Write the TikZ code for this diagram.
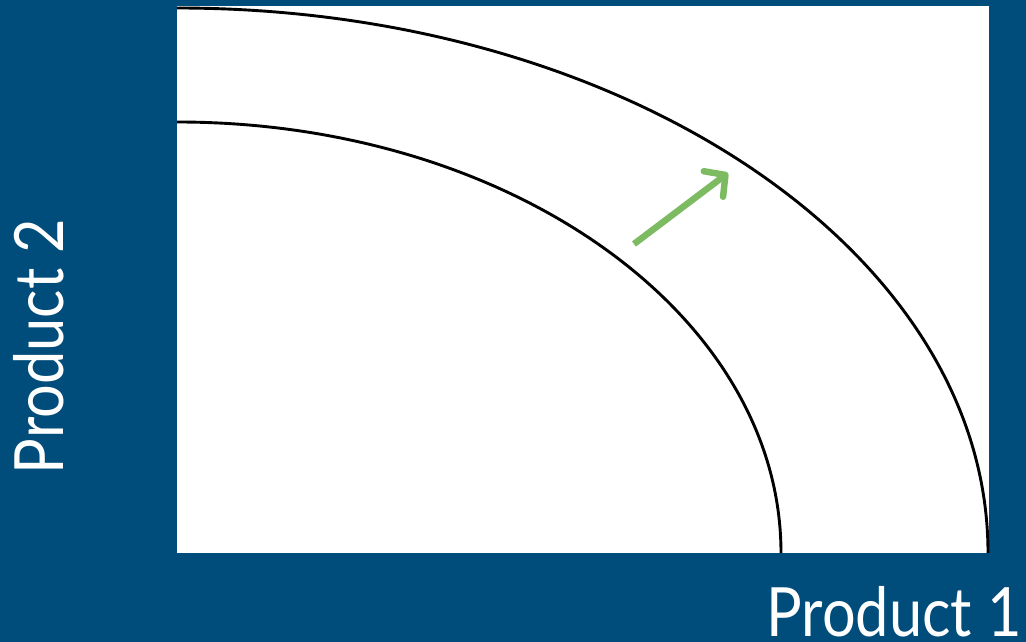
\documentclass[tikz,border=0pt]{standalone}
\usepackage{fontspec}
\setmainfont{Lato}
\usetikzlibrary{arrows.meta}
\definecolor{bgblue}{RGB}{0,76,122}
\definecolor{arrowgreen}{RGB}{125,187,99}
\newcommand{\condensed}[1]{\scalebox{0.875}[1]{#1}}
\tikzset{
  curve/.style={draw=black,line width=2.9pt},
  axislabel/.style={text=white,inner sep=0pt,font=\fontsize{68}{70}\selectfont},
  shiftarrow/.style={draw=arrowgreen,line width=6.5pt,-{Straight Barb[length=15pt,width=32pt,line width=6.5pt,round]}}
}
\begin{document}
\begin{tikzpicture}[x=1pt,y=1pt]
\fill[bgblue] (0,0) rectangle (1026,642);
\useasboundingbox (0,0) rectangle (1026,642);
\fill[white] (177,89) rectangle (989,636);
% production possibility frontiers
\draw[curve] (177,634) arc[start angle=90,end angle=0,x radius=811pt,y radius=545pt];
\draw[curve] (177,520) arc[start angle=90,end angle=0,x radius=604pt,y radius=431pt];
% shift arrow
\coordinate (from) at (634,398);
\coordinate (to) at (728,469);
\draw[shiftarrow] (from) -- (to);
% labels
\node[axislabel,anchor=base east] (p1) at (1022,5) {\condensed{Product 1}};
\node[axislabel,anchor=base,rotate=90] (p2) at (63,295.5) {\condensed{Product 2}};
\end{tikzpicture}
\end{document}
